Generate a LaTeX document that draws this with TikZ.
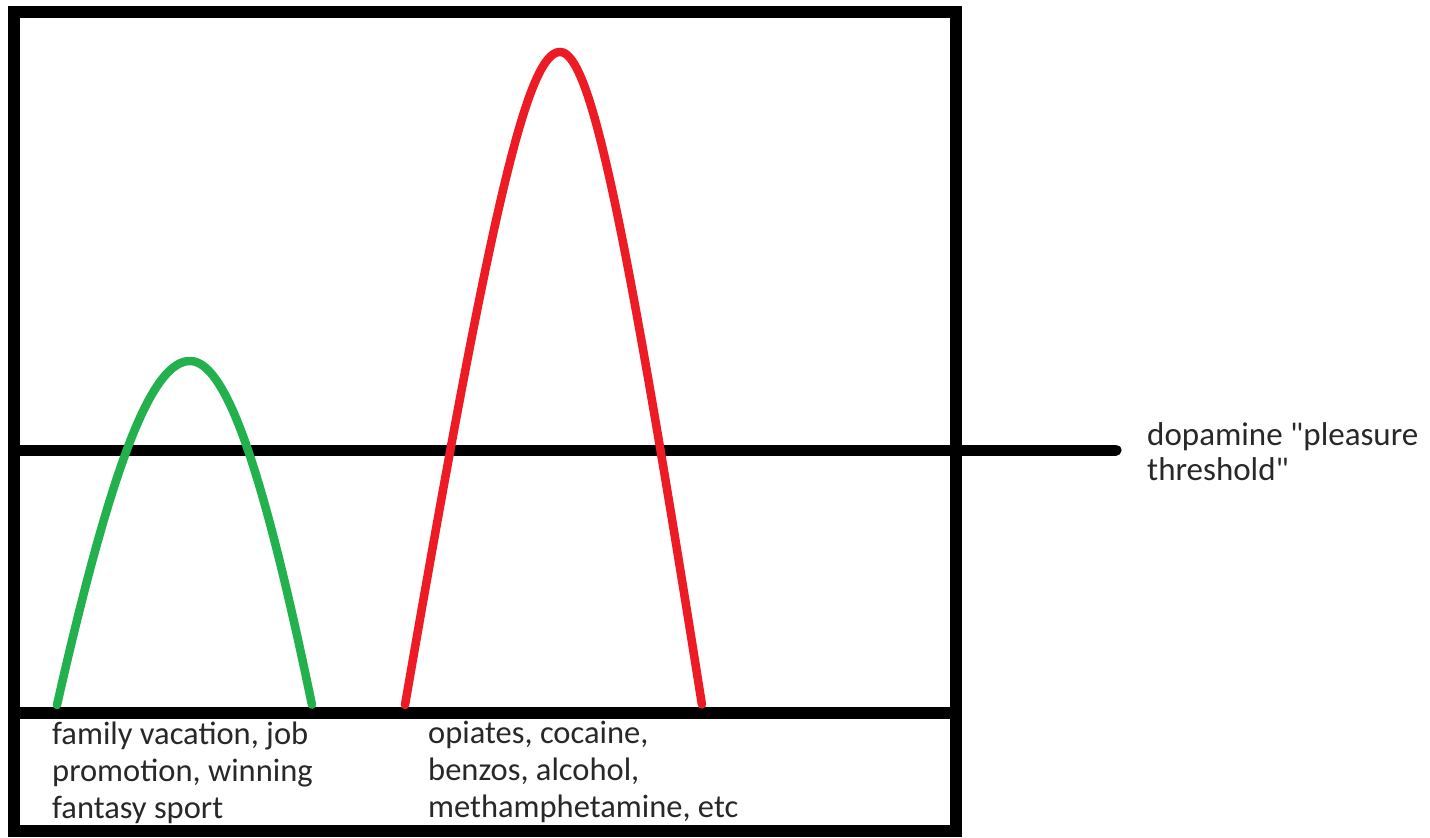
\documentclass[tikz,border=0pt]{standalone}
\usepackage{fontspec}
\setmainfont{Carlito}[Ligatures=TeXOff]
\definecolor{pgreen}{RGB}{34,177,76}
\definecolor{pred}{RGB}{237,28,36}
\definecolor{txt}{RGB}{40,40,40}
\begin{document}
\begin{tikzpicture}[x=1pt,y=-1pt,
  frame/.style={line width=12pt,black},
  curve/.style={line width=8.5pt,line cap=round,line join=round},
  lbl/.style={text=txt,font=\fontsize{32.5}{37}\selectfont,align=left,inner sep=0pt,anchor=north west}]
\useasboundingbox (0,0) rectangle (1430,838);
\fill[white] (0,0) rectangle (1430,838);
% frame
\coordinate (tl) at (14,12);
\coordinate (br) at (956,831);
\draw[frame] (tl) rectangle (br);
\coordinate (bl) at (8,713);
\coordinate (brr) at (962,713);
\draw[frame] (bl) -- (brr);
\coordinate (thl) at (14,450);
\coordinate (thr) at (1116,450);
\draw[line width=11pt,line cap=round] (thl) -- (thr);
% green curve (hyperbolic profile, b=1)
\pgfmathsetmacro{\gb}{1}
\pgfmathsetmacro{\gd}{sqrt(\gb*\gb+1)-\gb}
\coordinate (gpeak) at (190,361);
\draw[curve,pgreen] plot[smooth,samples=60,domain=1:0,variable=\t] ({190-133*\t},{361+344*(sqrt(\gb*\gb+\t*\t)-\gb)/\gd})
  -- plot[smooth,samples=60,domain=0:1,variable=\t] ({190+122*\t},{361+344*(sqrt(\gb*\gb+\t*\t)-\gb)/\gd});
% red curve (hyperbolic profile, b=0.4)
\pgfmathsetmacro{\rb}{0.4}
\pgfmathsetmacro{\rd}{sqrt(\rb*\rb+1)-\rb}
\coordinate (rpeak) at (560,52);
\draw[curve,pred] plot[smooth,samples=80,domain=1:0,variable=\t] ({560-155*\t},{52+653*(sqrt(\rb*\rb+\t*\t)-\rb)/\rd})
  -- plot[smooth,samples=80,domain=0:1,variable=\t] ({560+142*\t},{52+653*(sqrt(\rb*\rb+\t*\t)-\rb)/\rd});
% labels
\node[lbl] (gl) at (52,722) {family vacation, job\\promotion, winning\\fantasy sport};
\node[lbl] (rl) at (428,721) {opiates, cocaine,\\benzos, alcohol,\\methamphetamine, etc};
\node[lbl,font=\fontsize{33}{35}\selectfont] (tl2) at (1147,422) {dopamine "pleasure\\threshold"};
\end{tikzpicture}
\end{document}
